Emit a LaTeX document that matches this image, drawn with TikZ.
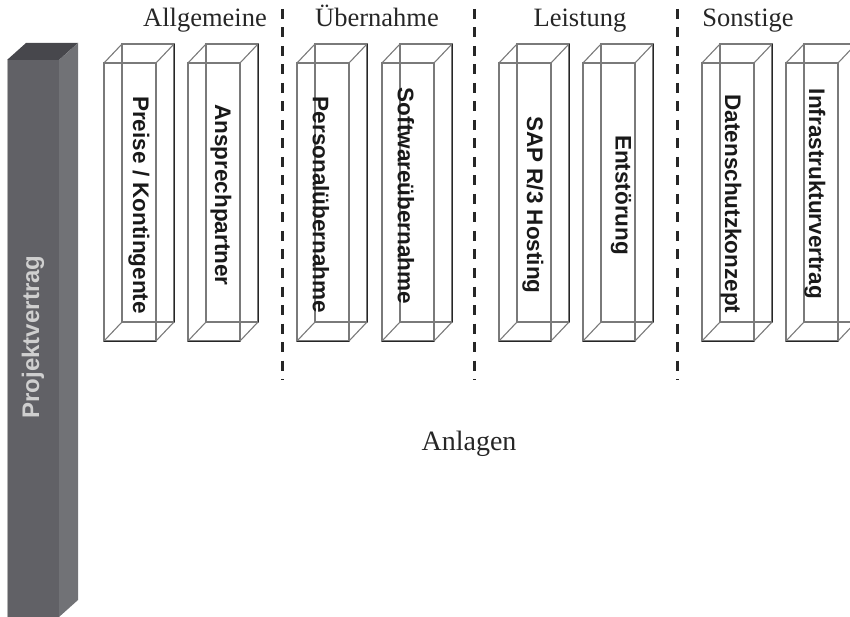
\documentclass[tikz,border=0pt]{standalone}
\usepackage{fontspec}
\setmainfont{Liberation Serif}
\newfontfamily\boxfont{Liberation Sans}
\definecolor{barfront}{HTML}{616166}
\definecolor{bartop}{HTML}{47474C}
\definecolor{barside}{HTML}{717276}
\definecolor{edgegray}{HTML}{7A7A7A}
\definecolor{bartext}{HTML}{CFCFCF}
\newcommand\drawprism[1]{%
  \draw[prismedge] (#1+18,44) rectangle (#1+70,322);
  \draw[prismedge] (#1,63) -- (#1+18,44) (#1+52,63) -- (#1+70,44)
                   (#1,341) -- (#1+18,322) (#1+52,341) -- (#1+70,322);
  \draw[prismedge] (#1,63) rectangle (#1+52,341);
  \draw[prismdark] (#1+70,44) -- (#1+70,322);
  \draw[prismdark] (#1,341) -- (#1+52,341);
}
\begin{document}
\begin{tikzpicture}[x=1pt,y=-1pt,
  prismedge/.style={draw=edgegray,line width=1.1pt,line join=miter},
  prismdark/.style={draw=black!85,line width=0.9pt},
  boxlabel/.style={rotate=-90,font=\boxfont\bfseries\fontsize{22.5}{26}\selectfont,text=black!90,inner sep=0pt},
  grouplabel/.style={anchor=base,font=\fontsize{26.5}{30}\selectfont,text=black!85,inner sep=0pt},
  sep/.style={draw=black!85,line width=3pt,dash pattern=on 10pt off 8.5pt}]
\useasboundingbox (0,0) rectangle (850,617);
\clip (0,0) rectangle (850,617);
% big bar
\fill[bartop] (7,60) -- (26,43) -- (78,43) -- (59,60) -- cycle;
\fill[barside] (59,60) -- (78,43) -- (78,600) -- (59,617) -- cycle;
\fill[barfront] (7,60) rectangle (59,617);
\draw[gray!60,line width=0.6pt] (7.3,60) -- (7.3,617);
\node[rotate=90,font=\boxfont\bfseries\fontsize{24}{28}\selectfont,text=bartext,inner sep=0pt] (pv) at (33,337) {Projektvertrag};
% prisms
\foreach \px in {104,188,297,382,499,583,702,786} {\drawprism{\px}}
\node[boxlabel] (b1) at (139,205) {Preise / Kontingente};
\node[boxlabel] (b2) at (221,195) {Ansprechpartner};
\node[boxlabel] (b3) at (321,205) {Personalübernahme};
\node[boxlabel] (b4) at (406,196) {Softwareübernahme};
\node[boxlabel] (b5) at (533,205) {SAP R/3 Hosting};
\node[boxlabel] (b6) at (621,195) {Entstörung};
\node[boxlabel] (b7) at (731,204) {Datenschutzkonzept};
\node[boxlabel] (b8) at (815,194) {Infrastrukturvertrag};
% separators
\coordinate (s1t) at (282,9); \coordinate (s1b) at (282,380);
\coordinate (s2t) at (474,9); \coordinate (s2b) at (474,380);
\coordinate (s3t) at (677,9); \coordinate (s3b) at (677,380);
\draw[sep] (s1t) -- (s1b);
\draw[sep] (s2t) -- (s2b);
\draw[sep] (s3t) -- (s3b);
% group labels
\node[grouplabel] (g1) at (205,27) {Allgemeine};
\node[grouplabel] (g2) at (377,27) {Übernahme};
\node[grouplabel] (g3) at (580,27) {Leistung};
\node[grouplabel] (g4) at (748,27) {Sonstige};
\node[grouplabel,font=\fontsize{28}{32}\selectfont] (anl) at (469,450) {Anlagen};
\end{tikzpicture}
\end{document}
